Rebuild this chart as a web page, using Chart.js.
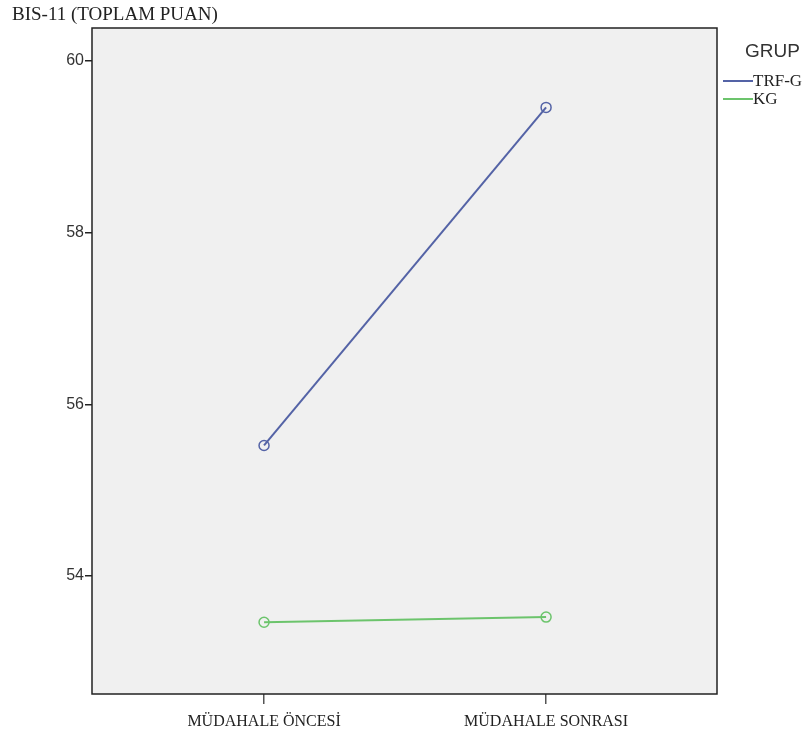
<!DOCTYPE html>
<html>
<head>
<meta charset="utf-8">
<title>BIS-11 (TOPLAM PUAN)</title>
<script src="https://cdn.jsdelivr.net/npm/chart.js@4.4.0/dist/chart.umd.min.js"></script>
<style>
    html, body { margin: 0; padding: 0; background: #ffffff; }
    #wrap { width: 811px; height: 740px; position: relative; }
</style>
</head>
<body>
<div id="wrap"><canvas id="bisChart" width="811" height="740"></canvas></div>
<script>
// Veriler
const categories = ['MÜDAHALE ÖNCESİ', 'MÜDAHALE SONRASI'];
const groupNames = ['TRF-G', 'KG'];
const trfValues = [55.52, 59.46];
const kgValues = [53.46, 53.52];
const yTicks = [54, 56, 58, 60];
const yTitle = 'BIS-11 (TOPLAM PUAN)';
const legendTitle = 'GRUP';

const colors = ['#5463a6', '#6cc46c'];
const serif = '"Liberation Serif", "Times New Roman", serif';
const sans = '"Liberation Sans", Arial, sans-serif';

// Çerçeve, başlık ve lejant çizimi
const spssFrame = {
    id: 'spssFrame',
    beforeDatasetsDraw(chart) {
        const { ctx, chartArea: a } = chart;
        ctx.save();
        ctx.fillStyle = '#f0f0f0';
        ctx.fillRect(a.left, a.top, a.right - a.left, a.bottom - a.top);
        ctx.restore();
    },
    afterDraw(chart) {
        const { ctx, chartArea: a } = chart;
        ctx.save();
        ctx.strokeStyle = '#222222';
        ctx.lineWidth = 1.5;
        ctx.strokeRect(a.left, a.top, a.right - a.left, a.bottom - a.top);

        // eksen başlığı sol üstte
        ctx.fillStyle = '#222222';
        ctx.font = '19px ' + serif;
        ctx.textBaseline = 'middle';
        ctx.textAlign = 'left';
        ctx.fillText(yTitle, 12, 15);

        // lejant
        ctx.fillStyle = '#333333';
        ctx.font = '19px ' + sans;
        ctx.fillText(legendTitle, 745, 52);
        ctx.font = '17px ' + serif;
        chart.data.datasets.forEach((ds, i) => {
            const y = 81 + i * 18;
            ctx.strokeStyle = ds.borderColor;
            ctx.lineWidth = 2;
            ctx.beginPath();
            ctx.moveTo(723, y);
            ctx.lineTo(753, y);
            ctx.stroke();
            ctx.fillStyle = '#222222';
            ctx.fillText(ds.label, 753, y + 1);
        });
        ctx.restore();
    }
};

const ctx = document.getElementById('bisChart').getContext('2d');
new Chart(ctx, {
    type: 'line',
    data: {
        datasets: [
            { label: groupNames[0], data: trfValues.map((v, i) => ({ x: i, y: v })) },
            { label: groupNames[1], data: kgValues.map((v, i) => ({ x: i, y: v })) }
        ].map((ds, i) => Object.assign(ds, {
            borderColor: colors[i],
            backgroundColor: 'rgba(0,0,0,0)',
            borderWidth: 2,
            pointRadius: 5,
            pointBorderWidth: 1.5,
            pointBackgroundColor: 'rgba(0,0,0,0)',
            pointBorderColor: colors[i],
            tension: 0,
            fill: false
        }))
    },
    options: {
        responsive: false,
        animation: false,
        events: [],
        layout: { padding: { top: 28, right: 94, left: 0, bottom: 0 } },
        plugins: { legend: { display: false }, tooltip: { enabled: false } },
        scales: {
            x: {
                type: 'linear',
                min: -0.61,
                max: 1.606,
                afterBuildTicks(scale) { scale.ticks = categories.map((c, i) => ({ value: i })); },
                afterFit(scale) { scale.height = 46; },
                grid: { drawOnChartArea: false, drawTicks: true, tickLength: 10, color: '#555555', lineWidth: 1.5 },
                border: { display: false },
                ticks: {
                    callback: (v) => categories[v],
                    color: '#222222',
                    font: { family: serif, size: 16 },
                    padding: 8,
                    maxRotation: 0
                }
            },
            y: {
                min: 52.624,
                max: 60.385,
                afterBuildTicks(scale) { scale.ticks = yTicks.map(v => ({ value: v })); },
                afterFit(scale) { scale.width = 92; },
                grid: { drawOnChartArea: false, drawTicks: true, tickLength: 7, color: '#222222', lineWidth: 1.5 },
                border: { display: false },
                ticks: {
                    color: '#333333',
                    font: { family: sans, size: 16 },
                    padding: 1
                }
            }
        }
    },
    plugins: [spssFrame]
});
</script>
</body>
</html>
